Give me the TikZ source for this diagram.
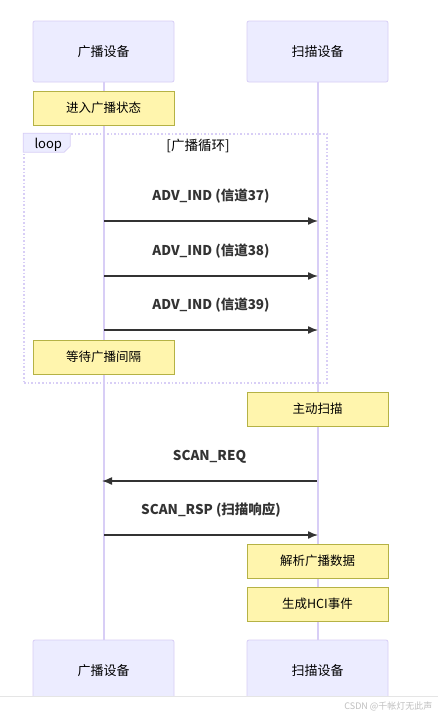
\documentclass[tikz,border=0pt]{standalone}
\usepackage{fontspec}
\setmainfont{Noto Sans CJK SC}
\usetikzlibrary{positioning,arrows.meta}
\definecolor{ActorFill}{HTML}{ECECFF}
\definecolor{ActorLine}{HTML}{D8CEF6}
\definecolor{NoteFill}{HTML}{FFF5AD}
\definecolor{NoteLine}{HTML}{B5B245}
\definecolor{MsgGray}{HTML}{333333}

\tikzset{
  actor/.style={draw=ActorLine, fill=ActorFill, line width=0.8pt, rounded corners=2pt,
    minimum width=141pt, minimum height=61pt, font=\fontsize{13}{15}\selectfont},
  lifeline/.style={draw=ActorLine, line width=2pt},
  notebox/.style={draw=NoteLine, fill=NoteFill, line width=0.9pt,
    minimum width=141pt, minimum height=34pt, font=\fontsize{12.5}{15}\selectfont},
  msg/.style={draw=MsgGray, line width=1.4pt, -{Latex[length=10pt,width=8pt]}},
  msglabel/.style={font=\fontsize{13.5}{15}\selectfont\bfseries, text=MsgGray},
  loopframe/.style={draw=ActorLine, line width=1.6pt, dash pattern=on 1.6pt off 2pt}
}

\begin{document}
\begin{tikzpicture}[x=1pt,y=-1pt]
  \useasboundingbox (0,0) rectangle (438,718);
  \fill[white] (0,0) rectangle (438,718);

  % participants
  \node[actor] (advTop) at (103.5,51.5) {广播设备};
  \node[actor] (scanTop) at (317.5,51.5) {扫描设备};
  \node[actor] (advBot) at (103.5,670.5) {广播设备};
  \node[actor] (scanBot) at (317.5,670.5) {扫描设备};
  \draw[lifeline] (advTop) -- (advBot);
  \draw[lifeline] (scanTop) -- (scanBot);

  % loop block
  \node[loopframe, minimum width=303pt, minimum height=249pt, inner sep=0pt] (loopBox) at (175.5,258.5) {};
  \draw[draw=ActorLine, fill=ActorFill, line width=0.8pt]
    (loopBox.north west) -- ++(47,0) -- ++(0,13) -- ++(-6,6) -- ++(-41,0) -- cycle;
  \node[font=\fontsize{13}{15}\selectfont, anchor=west] (loopTag) at (31,145) {loop};
  \node[font=\fontsize{13.5}{15}\selectfont] (loopCond) at (198,146) {[广播循环]};

  % notes
  \node[notebox] (enterAdv) at (103.5,108) {进入广播状态};
  \node[notebox] (waitGap) at (103.5,357) {等待广播间隔};
  \node[notebox] (activeScan) at (317.5,409) {主动扫描};
  \node[notebox] (parseData) at (317.5,561) {解析广播数据};
  \node[notebox] (hciEvent) at (317.5,604) {生成HCI事件};

  % messages
  \foreach \ch/\y in {37/221, 38/276, 39/330} {
    \coordinate (adv\ch) at (104,\y);
    \coordinate (scan\ch) at (318,\y);
    \draw[msg] (adv\ch) -- (scan\ch)
      node[midway, above=14pt, msglabel] {ADV\_IND (信道\ch)};
  }
  \coordinate (advReq) at (102,481);
  \coordinate (scanReq) at (317,481);
  \draw[msg] (scanReq) -- (advReq) node[midway, above=14pt, msglabel] {SCAN\_REQ};
  \coordinate (advRsp) at (104,535);
  \coordinate (scanRsp) at (318,535);
  \draw[msg] (advRsp) -- (scanRsp) node[midway, above=14pt, msglabel] {SCAN\_RSP (扫描响应)};

  % page footer
  \fill[white] (0,696) rectangle (438,718);
  \draw[draw=black!10, line width=0.8pt] (0,696) -- (438,696);
  \node[font=\fontsize{9}{11}\selectfont, text=black!25, anchor=east] (mark) at (436,706) {CSDN @千帐灯无此声};
\end{tikzpicture}
\end{document}
